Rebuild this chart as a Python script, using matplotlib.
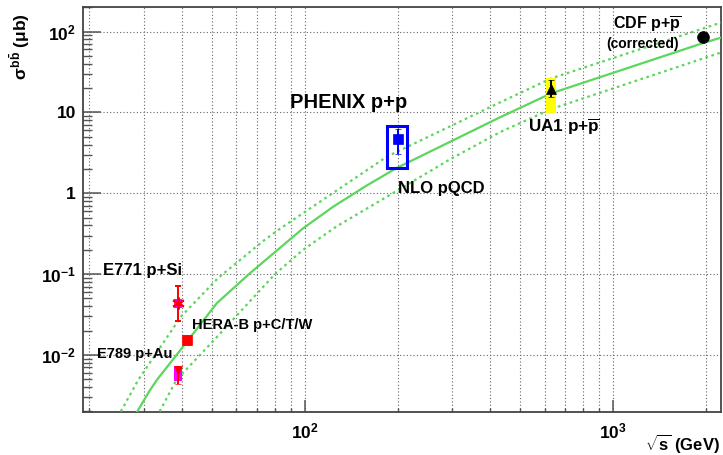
import matplotlib
matplotlib.use('Agg')

import matplotlib.pyplot as plt
from matplotlib.patches import Rectangle
from matplotlib.ticker import LogLocator, FixedLocator, FixedFormatter, NullFormatter
import numpy as np

matplotlib.rcParams['font.family'] = 'Liberation Sans'
matplotlib.rcParams['font.weight'] = 'bold'
matplotlib.rcParams['mathtext.fontset'] = 'custom'
matplotlib.rcParams['mathtext.rm'] = 'Liberation Sans:bold'
matplotlib.rcParams['mathtext.it'] = 'Liberation Sans:bold'
matplotlib.rcParams['mathtext.bf'] = 'Liberation Sans:bold'

# NLO pQCD curve (central) and its uncertainty band
nlo_x = [28.6, 31.5, 33.1, 40.3, 51.8, 66.4, 98.8, 123.5, 158.5, 198, 430, 630, 1960, 2240]
nlo_y = [0.002, 0.0037, 0.0049, 0.0127, 0.0436, 0.1026, 0.369, 0.68, 1.24, 2.04, 8.7, 17.2, 72, 84]
nlo_hi_x = [25.3, 28.8, 39.7, 52.4, 73.6, 83.6, 185, 430, 630, 2240]
nlo_hi_y = [0.002, 0.0049, 0.03, 0.09, 0.26, 0.37, 2.85, 13.3, 26.3, 129]
nlo_lo_x = [33.8, 38.3, 45.7, 50.8, 80, 98.8, 126.4, 219, 297, 430, 630, 2240]
nlo_lo_y = [0.002, 0.0049, 0.01, 0.0153, 0.1, 0.2, 0.386, 1.33, 2.65, 5.7, 11, 55]

# measurements: sqrt(s), sigma, stat error low/high, systematic box low/high
meas_names = ['E771', 'HERA-B', 'E789', 'PHENIX', 'UA1', 'CDF']
meas_x = [38.8, 41.6, 38.8, 200, 630, 1960]
meas_y = [0.044, 0.0153, 0.00653, 4.75, 19.2, 85.5]
meas_err_lo = [0.0177, 0.0, 0.0022, 1.65, 3.9, 0.0]
meas_err_hi = [0.027, 0.0, 0.0008, 1.55, 5.6, 0.0]
meas_box_lo = [0.038, 0.0129, 0.0048, 2.05, 9.7, 74]
meas_box_hi = [0.049, 0.0176, 0.0073, 6.7, 27, 96]

y_ticks = [0.01, 0.1, 1, 10, 100]
y_tick_labels = [r'$10^{-2}$', r'$10^{-1}$', '1', '10', r'$10^{2}$']
x_ticks = [100, 1000]
x_tick_labels = [r'$10^{2}$', r'$10^{3}$']

green = '#5cd65c'
fig = plt.figure(figsize=(7.23, 4.55), dpi=100)
ax = fig.add_axes([0.1148, 0.0945, 0.8824, 0.8901])
ax.set_xscale('log')
ax.set_yscale('log')
ax.set_xlim(19.07, 2240)
ax.set_ylim(0.00197, 201)

ax.plot(nlo_x, nlo_y, color=green, lw=1.6, zorder=3)
ax.plot(nlo_hi_x, nlo_hi_y, color=green, lw=1.6, ls=(0, (1.2, 1.6)), zorder=3)
ax.plot(nlo_lo_x, nlo_lo_y, color=green, lw=1.6, ls=(0, (1.2, 1.6)), zorder=3)

# systematic boxes
box_style = {
    'E771': ('#ff00ff', None, 0.03),
    'HERA-B': ('#ff00ff', None, 0.035),
    'E789': ('#ff00ff', None, 0.03),
    'PHENIX': ('none', '#0000ff', 0.075),
    'UA1': ('#ffff00', None, 0.04),
    'CDF': ('#ffff00', None, 0.026),
}
for name, x, lo, hi in zip(meas_names, meas_x, meas_box_lo, meas_box_hi):
    fc, ec, w = box_style[name]
    if ec is None:
        r = Rectangle((x * (1 - w), lo), x * 2 * w, hi - lo, facecolor=fc, edgecolor='none', zorder=4)
    else:
        r = Rectangle((x * (1 - w), lo), x * 2 * w, hi - lo, facecolor='none', edgecolor=ec, lw=2.2, zorder=4)
    ax.add_patch(r)

mk = {
    'E771': ((6, 2, 0), '#ff0000', 9),
    'HERA-B': ('s', '#ff0000', 6.5),
    'E789': ('v', '#ff0000', 6),
    'PHENIX': ('s', '#0000ff', 7.5),
    'UA1': ('^', '#000000', 7),
    'CDF': ('o', '#000000', 8.5),
}
for i, name in enumerate(meas_names):
    m, c, s = mk[name]
    ax.errorbar([meas_x[i]], [meas_y[i]], yerr=[[meas_err_lo[i]], [meas_err_hi[i]]],
                fmt='', marker=m, ls='none', color=c, ms=s,
                mew=1.4 if name == 'E771' else 0.5, mec=c,
                elinewidth=1.4, capsize=2.5, capthick=1.2, zorder=5)

# texts
ax.text(89.4, 11.3, 'PHENIX p+p', fontsize=14.5, fontweight='bold')
ax.text(200, 1.0, 'NLO pQCD', fontsize=12, fontweight='bold')
ax.text(528, 5.7, r'UA1 p+$\overline{\mathrm{p}}$', fontsize=12.3, fontweight='bold')
ax.text(1000, 104, r'CDF p+$\overline{\mathrm{p}}$', fontsize=11.5, fontweight='bold')
ax.text(949, 63, '(corrected)', fontsize=10, fontweight='bold')
ax.text(22.1, 0.098, 'E771 p+Si', fontsize=12, fontweight='bold')
ax.text(43, 0.0208, 'HERA-B p+C/T/W', fontsize=10.5, fontweight='bold')
ax.text(21.1, 0.0091, 'E789 p+Au', fontsize=10.5, fontweight='bold')

# axes styling, ROOT look
ax.yaxis.set_major_locator(FixedLocator(y_ticks))
ax.yaxis.set_major_formatter(FixedFormatter(y_tick_labels))
ax.yaxis.set_minor_locator(LogLocator(base=10, subs=np.arange(2, 10)))
ax.yaxis.set_minor_formatter(NullFormatter())
ax.xaxis.set_major_locator(FixedLocator(x_ticks))
ax.xaxis.set_major_formatter(FixedFormatter(x_tick_labels))
ax.xaxis.set_minor_locator(LogLocator(base=10, subs=np.arange(2, 10)))
ax.xaxis.set_minor_formatter(NullFormatter())

ax.tick_params(axis='y', which='major', direction='in', length=13, width=1.1, color='#555555',
               labelsize=12.5, pad=5)
ax.tick_params(axis='y', which='minor', direction='in', length=6.5, width=1.0, color='#555555')
ax.tick_params(axis='x', which='major', direction='in', length=8.6, width=1.1, color='#555555',
               labelsize=12.5, pad=7)
ax.tick_params(axis='x', which='minor', direction='in', length=3, width=1.0, color='#555555')
for lab in ax.get_xticklabels() + ax.get_yticklabels():
    lab.set_fontweight('bold')

ax.grid(which='both', axis='x', color='#666666', ls=(0, (1, 2)), lw=0.8)
ax.grid(which='major', axis='y', color='#666666', ls=(0, (1, 2)), lw=0.8)
ax.set_axisbelow(True)

for sp in ax.spines.values():
    sp.set_linewidth(1.3)
    sp.set_color('#444444')

ax.set_ylabel(r'$\sigma^{b\bar{b}}$ ($\mu$b)', fontsize=12.5, fontweight='bold', loc='top')
ax.yaxis.set_label_coords(-0.08, 0.985)
ax.set_xlabel(r'$\sqrt{s}$ (GeV)', fontsize=12, fontweight='bold', loc='right')
ax.xaxis.set_label_coords(0.998, -0.05)

plt.savefig('out.png', dpi=100)
plt.close()
